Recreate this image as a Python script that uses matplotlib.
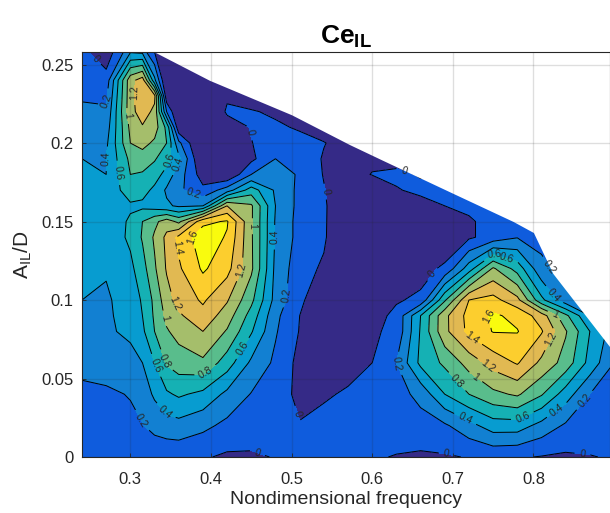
#Ce_IL contour map
import numpy as np
import matplotlib
matplotlib.use('Agg')
import matplotlib.pyplot as plt
from matplotlib.colors import ListedColormap, BoundaryNorm

matplotlib.rcParams['font.family'] = 'Liberation Sans'
matplotlib.rcParams['mathtext.fontset'] = 'custom'
matplotlib.rcParams['mathtext.rm'] = 'Liberation Sans'
matplotlib.rcParams['mathtext.bf'] = 'Liberation Sans:bold'

freq = [.24, .27, .30, .315, .33, .345, .36, .39, .42, .45, .48, .51, .54,
        .57, .60, .63, .66, .69, .72, .75, .78, .81, .84, .87, .90]
amp = [0, .02, .04, .06, .08, .09, .10, .12, .14, .15, .16, .17, .18, .19, .20, .21, .22, .23, .24, .26]

row_000 = [.06,.04,.0,.02,.04,.05,.05,.02,-.03,-.03,.01,.04,.06,.05,.02,-.01,-.03,-.02,.01,.04,.02,-.01,-.03,-.01,.02]
row_002 = [.10,.13,.16,.19,.27,.31,.33,.25,.15,.12,.09,.01,.05,.09,.10,.10,.12,.17,.33,.50,.50,.33,.17,.13,.10]
row_004 = [.16,.17,.21,.30,.43,.57,.63,.55,.35,.19,.10,-.05,-.02,.02,.04,.12,.26,.60,.80,.95,1.03,.82,.50,.20,.12]
row_006 = [.25,.28,.33,.40,.60,.82,.90,.96,.70,.36,.16,-.06,-.10,-.06,.0,.20,.65,.84,1.08,1.28,1.42,1.15,.92,.53,.20]
row_008 = [.33,.37,.44,.56,.80,.98,1.07,1.20,.98,.62,.22,-.01,-.12,-.15,-.03,.05,.62,1.15,1.45,1.61,1.61,1.42,1.02,.60,.30]
row_009 = [.37,.37,.47,.60,.83,1.05,1.17,1.33,1.10,.72,.25,.0,-.14,-.18,-.08,.05,.60,1.15,1.47,1.63,1.55,1.30,.85,.40,.15]
row_010 = [.40,.37,.50,.62,.85,1.12,1.27,1.43,1.22,.85,.33,.04,-.15,-.20,-.18,-.02,.04,.77,1.40,1.47,1.26,.65,.27,.14,.10]
row_012 = [.43,.42,.55,.72,.97,1.22,1.37,1.63,1.47,1.04,.35,.08,-.03,-.20,-.25,-.22,-.08,.04,.50,1.03,.72,.25,.12,.10,.10]
row_014 = [.45,.46,.64,.82,1.03,1.25,1.45,1.72,1.58,1.03,.38,.13,.03,-.25,-.30,-.30,-.25,-.17,-.03,.08,.19,.14,.10,.10,.10]
row_015 = [.45,.46,.63,.80,.95,1.10,.95,1.55,1.62,1.03,.38,.13,.03,-.22,-.33,-.33,-.30,-.20,-.03,.08,.15,.10,.10,.10,.10]
row_016 = [.45,.47,.57,.55,.50,.43,.37,.40,1.20,1.03,.40,.14,.03,-.20,-.30,-.15,-.05,.0,.05,.09,.10,.10,.10,.10,.10]
row_017 = [.44,.46,.70,.68,.55,.37,.24,.05,.30,.70,.37,.15,.01,-.15,-.20,-.01,.03,.05,.07,.10,.10,.10,.10,.10,.10]
row_018 = [.42,.40,.80,.78,.70,.52,.30,-.10,-.20,.20,.37,.16,-.01,-.10,.01,.03,-.01,-.02,-.02,-.02,-.02,-.02,-.02,-.02,-.02]
row_019 = [.40,.40,.85,.90,.82,.68,.45,-.25,-.35,-.05,.20,.15,-.02,-.05,-.05,-.05,-.05,-.05,-.05,-.05,-.05,-.05,-.05,-.05,-.05]
row_020 = [.36,.36,1.0,1.07,.96,.80,.25,-.30,-.30,-.005,.08,.06,.01,-.10,-.10,-.10,-.10,-.10,-.10,-.10,-.10,-.10,-.10,-.10,-.10]
row_021 = [.31,.30,1.05,1.18,1.10,.75,-.15,-.30,-.10,.01,.03,-.02,-.10,-.10,-.10,-.10,-.10,-.10,-.10,-.10,-.10,-.10,-.10,-.10,-.10]
row_022 = [.25,.23,1.13,1.30,1.15,.20,-.25,-.30,.03,.015,-.03,-.10,-.10,-.10,-.10,-.10,-.10,-.10,-.10,-.10,-.10,-.10,-.10,-.10,-.10]
row_023 = [.17,.16,1.13,1.35,1.25,-.15,-.30,-.25,-.03,-.10,-.10,-.10,-.10,-.10,-.10,-.10,-.10,-.10,-.10,-.10,-.10,-.10,-.10,-.10,-.10]
row_024 = [.10,.08,1.13,1.30,.45,-.25,-.30,-.20,-.10,-.10,-.10,-.10,-.10,-.10,-.10,-.10,-.10,-.10,-.10,-.10,-.10,-.10,-.10,-.10,-.10]
row_026 = [.03,-.15,.30,.25,-.05,-.30,-.30,-.30,-.30,-.20,-.20,-.20,-.20,-.20,-.20,-.20,-.20,-.20,-.20,-.20,-.20,-.20,-.20,-.20,-.20]

# upper edge of the tested region
edge_x = [.33, .398, .50, .572, .613, .70, .775, .80, .824, .895, .90]
edge_y = [.258, .24, .218, .199, .189, .168, .15, .143, .117, .07, .066]

levels = [-1, 0, .2, .4, .6, .8, 1, 1.2, 1.4, 1.6, 2]
colors = ['#352a87', '#0f5cdd', '#1280d2', '#079cd0', '#15b1b4',
          '#59bd8c', '#a5be6b', '#e1b952', '#fcce2e', '#f9fb0e']

label_spots = [(.253,.252),(.442,.206),(.541,.169),(.638,.18),(.678,.115),(.497,.026),
               (.46,.006),(.693,.004),(.861,.003),
               (.27,.227),(.377,.165),(.489,.103),(.317,.024),(.633,.06),(.823,.122),(.866,.035),
               (.27,.19),(.358,.187),(.478,.14),(.342,.028),(.715,.024),(.829,.03),(.752,.13),
               (.285,.181),(.347,.19),(.33,.058),(.44,.069),(.787,.025),(.767,.127),
               (.293,.217),(.342,.061),(.39,.056),(.703,.047),(.823,.102),
               (.34,.088),(.45,.147),(.727,.05),(.827,.091),
               (.307,.232),(.352,.097),(.439,.119),(.74,.056),(.829,.073),
               (.353,.133),(.722,.075),
               (.376,.141),(.741,.09)]

Z = np.array([row_000, row_002, row_004, row_006, row_008, row_009, row_010, row_012, row_014, row_015,
              row_016, row_017, row_018, row_019, row_020, row_021, row_022, row_023, row_024, row_026])

fig = plt.figure(figsize=(6.10, 5.13), dpi=100, facecolor='white')
ax = fig.add_axes([82/610, 1-457/513, 1-82/610, (457-52)/513])

ax.contourf(freq, amp, Z, levels=levels, cmap=ListedColormap(colors),
            norm=BoundaryNorm(levels, len(colors)))
cs = ax.contour(freq, amp, Z, levels=levels[1:-1], colors='black', linewidths=0.7)
ax.clabel(cs, fmt='%g', fontsize=7.5, colors='#262626', manual=label_spots)
ax.fill_between(edge_x, edge_y, 0.3, color='white', lw=0, zorder=2.4)

ax.set_xlim(.24, .895)
ax.set_ylim(0, .258)
ax.set_xticks([.3, .4, .5, .6, .7, .8])
ax.set_yticks([0, .05, .1, .15, .2, .25])
ax.set_xticklabels(['0.3', '0.4', '0.5', '0.6', '0.7', '0.8'])
ax.set_yticklabels(['0', '0.05', '0.1', '0.15', '0.2', '0.25'])
ax.set_axisbelow(False)
ax.grid(True, color='#262626', alpha=0.15, lw=1)
ax.tick_params(direction='in', length=3, width=0.6, labelsize=12, colors='#262626')
ax.tick_params(axis='x', pad=11)
ax.tick_params(axis='y', pad=6)
for s in ax.spines.values():
    s.set_color('#262626')
    s.set_linewidth(0.8)

ax.set_xlabel('Nondimensional frequency', fontsize=14, color='#262626', labelpad=3)
ax.set_ylabel(r'$\mathrm{A_{IL}/D}$', fontsize=15, color='#262626', labelpad=5)
ax.set_title(r'$\mathbf{Ce_{IL}}$', fontsize=19, color='black', pad=6)

fig.savefig('out.png', dpi=100)
